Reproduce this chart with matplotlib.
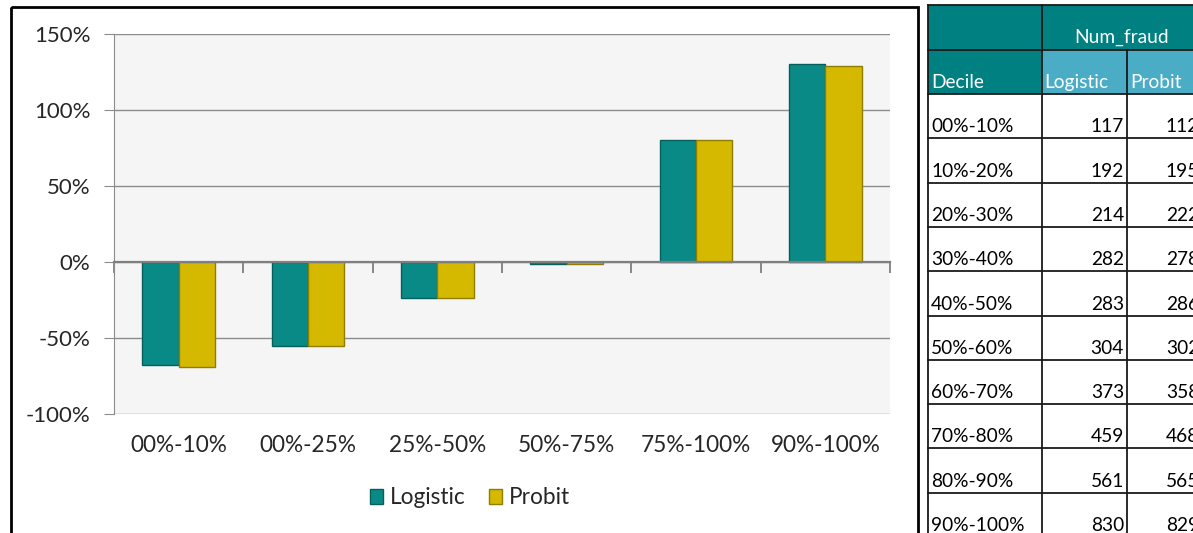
import numpy as np
import matplotlib
matplotlib.use("Agg")
import matplotlib.pyplot as plt
from matplotlib.patches import Rectangle, Patch
from matplotlib.ticker import FuncFormatter, FixedLocator
import matplotlib.transforms as mtransforms

plt.rcParams['font.family'] = ['Lato', 'DejaVu Sans']

# ---- data ----
categories = ['00%-10%', '00%-25%', '25%-50%', '50%-75%', '75%-100%', '90%-100%']
logistic = [-68, -55, -24, -1, 80, 130]
probit = [-69, -55, -24, -1, 80, 129]
yticks = [-100, -50, 0, 50, 100, 150]

table_deciles = ['00%-10%', '10%-20%', '20%-30%', '30%-40%', '40%-50%',
                 '50%-60%', '60%-70%', '70%-80%', '80%-90%', '90%-100%']
table_logistic = [117, 192, 214, 282, 283, 304, 373, 459, 561, 830]
table_probit = [112, 195, 222, 278, 286, 302, 358, 468, 565, 829]

TEAL = '#0A8A86'
TEAL_EDGE = '#05605D'
YEL = '#D4B900'
YEL_EDGE = '#8F7D00'
GRID = '#8C8C8C'
TXT = '#262626'

W, H = 1193, 533
fig = plt.figure(figsize=(W / 100, H / 100), dpi=100)

# ---- chart ----
ax = fig.add_axes([114 / W, 1 - 414 / H, 776 / W, 380 / H])
ax.set_facecolor('#F5F5F5')
x = np.arange(len(categories))
bw = 0.282
ax.bar(x - bw / 2, logistic, bw, color=TEAL, edgecolor=TEAL_EDGE, linewidth=1.0, zorder=3)
ax.bar(x + bw / 2, probit, bw, color=YEL, edgecolor=YEL_EDGE, linewidth=1.0, zorder=3)

ax.set_xlim(-0.5, len(categories) - 0.5)
ax.set_ylim(min(yticks), max(yticks))
ax.yaxis.set_major_locator(FixedLocator(yticks))
ax.yaxis.set_major_formatter(FuncFormatter(lambda v, p: f'{v:.0f}%'))
ax.yaxis.grid(True, color=GRID, linewidth=1.0, zorder=1)
ax.set_axisbelow(True)
ax.tick_params(axis='y', length=7, color=GRID, labelsize=16, labelcolor=TXT, pad=10)
for lab in ax.get_yticklabels():
    lab.set_ha('right')

ax.spines['top'].set_visible(False)
ax.spines['right'].set_visible(False)
ax.spines['left'].set_color(GRID)
ax.spines['bottom'].set_position(('data', 0))
ax.spines['bottom'].set_color('#7F7F7F')
ax.spines['bottom'].set_linewidth(1.6)
ax.spines['bottom'].set_zorder(4)
ax.xaxis.set_major_locator(FixedLocator(np.arange(-0.5, len(categories), 1.0)))
ax.tick_params(axis='x', length=8, width=1.3, color='#7F7F7F', labelbottom=False)

trans = mtransforms.blended_transform_factory(ax.transData, ax.transAxes)
for xi, c in zip(x, categories):
    ax.text(xi, -0.082, c, transform=trans, ha='center', va='center',
            fontsize=16.3, color=TXT)

handles = [Patch(facecolor=TEAL, edgecolor=TEAL_EDGE), Patch(facecolor=YEL, edgecolor=YEL_EDGE)]
fig.legend(handles, ['Logistic', 'Probit'], loc='center', bbox_to_anchor=(0.394, 0.066),
           ncol=2, frameon=False, fontsize=16.3, handlelength=0.6, handleheight=0.6,
           handletextpad=0.3, columnspacing=1.0, labelcolor=TXT)

# ---- overlay for frame and table (pixel coordinates) ----
ov = fig.add_axes([0, 0, 1, 1], zorder=10)
ov.set_xlim(0, W)
ov.set_ylim(H, 0)
ov.axis('off')
ov.patch.set_alpha(0)

ov.add_patch(Rectangle((11, 7), 907, 540, fill=False, edgecolor='black', linewidth=2.0))

col_x = [928, 1042, 1127, 1205]
row_h = 44.3
top = 5
header_h = 44.5
HEAD = '#008080'
SUB = '#4BACC6'
TFS = 13.8

ov.add_patch(Rectangle((col_x[0], top), col_x[-1] - col_x[0], header_h, facecolor=HEAD, edgecolor='none'))
y2 = top + header_h
ov.add_patch(Rectangle((col_x[0], y2), col_x[1] - col_x[0], header_h, facecolor=HEAD, edgecolor='none'))
ov.add_patch(Rectangle((col_x[1], y2), col_x[-1] - col_x[1], header_h, facecolor=SUB, edgecolor='none'))

ov.text((col_x[1] + 1202) / 2, y2 - 4, 'Num_fraud', ha='center', va='bottom', fontsize=TFS, color='white')
ov.text(col_x[0] + 3, y2 + header_h - 3, 'Decile', ha='left', va='bottom', fontsize=TFS, color='white')
ov.text(col_x[1] + 2, y2 + header_h - 3, 'Logistic', ha='left', va='bottom', fontsize=TFS, color='white')
ov.text(col_x[2] + 3, y2 + header_h - 3, 'Probit', ha='left', va='bottom', fontsize=TFS, color='white')

y0 = y2 + header_h
for i, (d, l, p) in enumerate(zip(table_deciles, table_logistic, table_probit)):
    yb = y0 + (i + 1) * row_h
    ov.text(col_x[0] + 3, yb - 3, d, ha='left', va='bottom', fontsize=TFS, color='black')
    ov.text(col_x[2] - 3, yb - 3, str(l), ha='right', va='bottom', fontsize=TFS, color='black')
    ov.text(col_x[3] - 6, yb - 3, str(p), ha='right', va='bottom', fontsize=TFS, color='black')

lc = '#1A1A1A'
ys = [top, y2, y0] + [y0 + (i + 1) * row_h for i in range(len(table_deciles))]
for yy in ys:
    ov.plot([col_x[0], col_x[-1]], [yy, yy], color=lc, lw=1.3)
bottom = ys[-1] + 5
ov.plot([col_x[0], col_x[0]], [top, bottom], color=lc, lw=1.3)
ov.plot([col_x[1], col_x[1]], [top, bottom], color=lc, lw=1.3)
ov.plot([col_x[2], col_x[2]], [y2, bottom], color=lc, lw=1.3)

fig.savefig('out.png', dpi=100)
